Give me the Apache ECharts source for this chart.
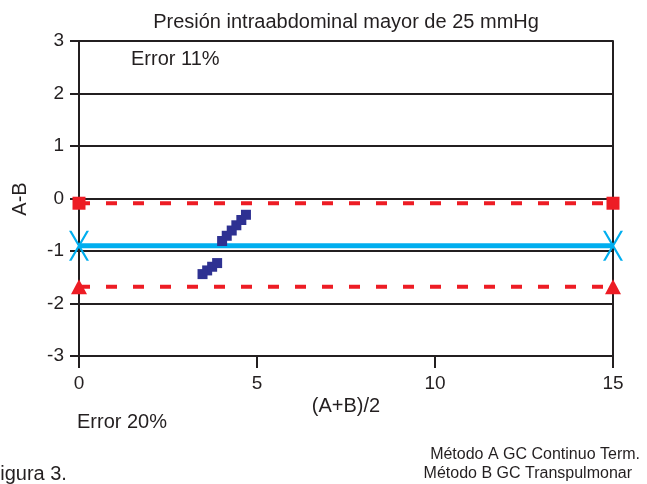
<!DOCTYPE html>
<html>
<head>
<meta charset="utf-8">
<script src="https://cdn.jsdelivr.net/npm/echarts@6/dist/echarts.min.js"></script>
<style>
  html, body { margin: 0; padding: 0; background: #fff; }
  #main { width: 647px; height: 484px; }
</style>
</head>
<body>
<div id="main"></div>
<script>
// datos del gráfico (Bland-Altman)
const xRange = [0, 15]
const xTicks = [0, 5, 10, 15]
const yTicks = [-3, -2, -1, 0, 1, 2, 3]
const upperLimit = -0.09   // límite superior (cuadrados rojos)
const meanDiff = -0.9      // diferencia media (línea azul)
const lowerLimit = -1.68   // límite inferior (triángulos rojos)
const pointsX = [4.02, 4.15, 4.29, 4.42, 4.56, 4.69, 3.47, 3.60, 3.74, 3.88]
const pointsY = [-0.81, -0.71, -0.61, -0.51, -0.41, -0.31, -1.44, -1.37, -1.30, -1.23]

const titleText = 'Presión intraabdominal mayor de 25 mmHg'
const xName = '(A+B)/2'
const yName = 'A-B'

const black = '#231f20'
const red = '#ed1c24'
const blue = '#00aeef'
const navy = '#2e3192'
const font = '"Liberation Sans", Arial, sans-serif'
const txt = '20px ' + font
const small = '16px ' + font

const chart = echarts.init(document.getElementById('main'))

const hLine = (v) => xRange.map((x) => [x, v])

const option = {
  animation: false,
  grid: { left: 79, right: 34, top: 41, bottom: 128 },
  xAxis: {
    type: 'value',
    min: xTicks[0],
    max: xTicks[xTicks.length - 1],
    interval: 5,
    axisLine: { show: true, onZero: false, lineStyle: { color: black, width: 2 } },
    axisTick: { show: true, length: 12, lineStyle: { color: black, width: 2 } },
    axisLabel: { color: black, fontSize: 19, fontFamily: font, margin: 18 },
    splitLine: { show: false }
  },
  yAxis: [
    {
      type: 'value',
      min: yTicks[0],
      max: yTicks[yTicks.length - 1],
      interval: 1,
      axisLine: { show: true, onZero: false, lineStyle: { color: black, width: 2 } },
      axisTick: { show: true, length: 9, lineStyle: { color: black, width: 2 } },
      axisLabel: { color: black, fontSize: 19, fontFamily: font, margin: 15 },
      splitLine: { show: true, lineStyle: { color: black, width: 2 } }
    },
    {
      // borde derecho
      type: 'value',
      position: 'right',
      min: yTicks[0],
      max: yTicks[yTicks.length - 1],
      interval: 1,
      axisLine: { show: true, onZero: false, lineStyle: { color: black, width: 2 } },
      axisTick: { show: false },
      axisLabel: { show: false },
      splitLine: { show: false }
    }
  ],
  series: [
    {
      name: 'upper',
      type: 'line',
      data: hLine(upperLimit),
      symbol: 'rect',
      symbolSize: 13,
      clip: false,
      lineStyle: { color: red, width: 4, type: [11, 16] },
      itemStyle: { color: red, borderWidth: 0 },
      z: 3
    },
    {
      name: 'mean',
      type: 'line',
      data: hLine(meanDiff),
      symbol: 'path://M0,0L2.5,0L20,30L17.5,30Z M17.5,0L20,0L2.5,30L0,30Z',
      symbolSize: [20, 30],
      symbolKeepAspect: false,
      clip: false,
      lineStyle: { color: blue, width: 5 },
      itemStyle: { color: blue, borderWidth: 0 },
      z: 3
    },
    {
      name: 'lower',
      type: 'line',
      data: hLine(lowerLimit),
      symbol: 'triangle',
      symbolSize: [16, 15],
      clip: false,
      lineStyle: { color: red, width: 4, type: [11, 16] },
      itemStyle: { color: red, borderWidth: 0 },
      z: 3
    },
    {
      name: 'puntos',
      type: 'scatter',
      data: pointsX.map((x, i) => [x, pointsY[i]]),
      symbol: 'rect',
      symbolSize: 10,
      itemStyle: { color: navy, opacity: 1 },
      z: 4
    }
  ],
  graphic: [
    { type: 'text', x: 346, y: 22, style: { text: titleText, font: txt, fill: black, align: 'center', verticalAlign: 'middle' } },
    { type: 'text', x: 131, y: 59, style: { text: 'Error 11%', font: txt, fill: black, align: 'left', verticalAlign: 'middle' } },
    { type: 'text', x: 20, y: 199, rotation: Math.PI / 2, style: { text: yName, font: txt, fill: black, align: 'center', verticalAlign: 'middle' } },
    { type: 'text', x: 346, y: 406, style: { text: xName, font: txt, fill: black, align: 'center', verticalAlign: 'middle' } },
    { type: 'text', x: 77, y: 422, style: { text: 'Error 20%', font: txt, fill: black, align: 'left', verticalAlign: 'middle' } },
    { type: 'text', x: 640, y: 455, style: { text: 'Método A GC Continuo Term.', font: small, fill: black, align: 'right', verticalAlign: 'middle' } },
    { type: 'text', x: 632, y: 474, style: { text: 'Método B GC Transpulmonar', font: small, fill: black, align: 'right', verticalAlign: 'middle' } },
    { type: 'text', x: -12, y: 474, style: { text: 'Figura 3.', font: txt, fill: black, align: 'left', verticalAlign: 'middle' } }
  ]
}

chart.setOption(option)
</script>
</body>
</html>
